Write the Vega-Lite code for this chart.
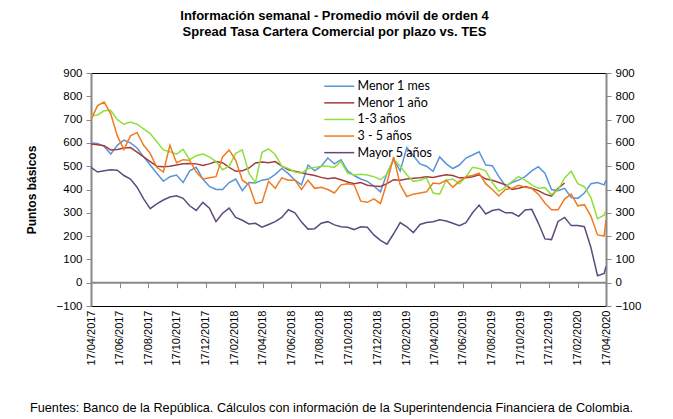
{
 "$schema": "https://vega.github.io/schema/vega-lite/v6.json",
 "width": 515,
 "height": 233,
 "autosize": {"type": "none"},
 "padding": {"left": 91, "top": 73, "right": 67, "bottom": 113},
 "background": "white",
 "config": {"view": {"stroke": "black", "strokeWidth": 1}, "font": "Liberation Sans"},
 "title": {"text": ["Información semanal - Promedio móvil de orden 4", "Spread Tasa Cartera Comercial por plazo vs. TES"], "fontSize": 13, "fontWeight": "bold", "font": "Liberation Sans", "color": "black", "anchor": "middle", "dx": -14, "offset": 28, "lineHeight": 16},
 "datasets": {
  "series": [
{"d":"2017-04-17","s":"Menor 1 mes","v":600},{"d":"2017-05-01","s":"Menor 1 mes","v":598},{"d":"2017-05-15","s":"Menor 1 mes","v":585},{"d":"2017-05-29","s":"Menor 1 mes","v":552},{"d":"2017-06-12","s":"Menor 1 mes","v":590},{"d":"2017-06-26","s":"Menor 1 mes","v":612},{"d":"2017-07-10","s":"Menor 1 mes","v":600},{"d":"2017-07-24","s":"Menor 1 mes","v":578},{"d":"2017-08-07","s":"Menor 1 mes","v":540},{"d":"2017-08-21","s":"Menor 1 mes","v":505},
{"d":"2017-09-04","s":"Menor 1 mes","v":470},{"d":"2017-09-18","s":"Menor 1 mes","v":435},{"d":"2017-10-02","s":"Menor 1 mes","v":455},{"d":"2017-10-16","s":"Menor 1 mes","v":462},{"d":"2017-10-30","s":"Menor 1 mes","v":430},{"d":"2017-11-13","s":"Menor 1 mes","v":480},{"d":"2017-11-27","s":"Menor 1 mes","v":495},{"d":"2017-12-11","s":"Menor 1 mes","v":445},{"d":"2017-12-25","s":"Menor 1 mes","v":413},{"d":"2018-01-08","s":"Menor 1 mes","v":400},
{"d":"2018-01-22","s":"Menor 1 mes","v":400},{"d":"2018-02-05","s":"Menor 1 mes","v":430},{"d":"2018-02-19","s":"Menor 1 mes","v":445},{"d":"2018-03-05","s":"Menor 1 mes","v":395},{"d":"2018-03-19","s":"Menor 1 mes","v":430},{"d":"2018-04-02","s":"Menor 1 mes","v":428},{"d":"2018-04-16","s":"Menor 1 mes","v":440},{"d":"2018-04-30","s":"Menor 1 mes","v":445},{"d":"2018-05-14","s":"Menor 1 mes","v":465},{"d":"2018-05-28","s":"Menor 1 mes","v":490},
{"d":"2018-06-11","s":"Menor 1 mes","v":468},{"d":"2018-06-25","s":"Menor 1 mes","v":440},{"d":"2018-07-09","s":"Menor 1 mes","v":420},{"d":"2018-07-23","s":"Menor 1 mes","v":505},{"d":"2018-08-06","s":"Menor 1 mes","v":480},{"d":"2018-08-20","s":"Menor 1 mes","v":500},{"d":"2018-09-03","s":"Menor 1 mes","v":535},{"d":"2018-09-17","s":"Menor 1 mes","v":510},{"d":"2018-10-01","s":"Menor 1 mes","v":528},{"d":"2018-10-15","s":"Menor 1 mes","v":480},
{"d":"2018-10-29","s":"Menor 1 mes","v":460},{"d":"2018-11-12","s":"Menor 1 mes","v":445},{"d":"2018-11-26","s":"Menor 1 mes","v":435},{"d":"2018-12-10","s":"Menor 1 mes","v":415},{"d":"2018-12-24","s":"Menor 1 mes","v":390},{"d":"2019-01-07","s":"Menor 1 mes","v":470},{"d":"2019-01-21","s":"Menor 1 mes","v":528},{"d":"2019-02-04","s":"Menor 1 mes","v":480},{"d":"2019-02-18","s":"Menor 1 mes","v":580},{"d":"2019-03-04","s":"Menor 1 mes","v":545},
{"d":"2019-03-18","s":"Menor 1 mes","v":510},{"d":"2019-04-01","s":"Menor 1 mes","v":500},{"d":"2019-04-15","s":"Menor 1 mes","v":478},{"d":"2019-04-29","s":"Menor 1 mes","v":540},{"d":"2019-05-13","s":"Menor 1 mes","v":510},{"d":"2019-05-27","s":"Menor 1 mes","v":490},{"d":"2019-06-10","s":"Menor 1 mes","v":505},{"d":"2019-06-24","s":"Menor 1 mes","v":535},{"d":"2019-07-08","s":"Menor 1 mes","v":548},{"d":"2019-07-22","s":"Menor 1 mes","v":562},
{"d":"2019-08-05","s":"Menor 1 mes","v":505},{"d":"2019-08-19","s":"Menor 1 mes","v":502},{"d":"2019-09-02","s":"Menor 1 mes","v":455},{"d":"2019-09-16","s":"Menor 1 mes","v":415},{"d":"2019-09-30","s":"Menor 1 mes","v":430},{"d":"2019-10-14","s":"Menor 1 mes","v":440},{"d":"2019-10-28","s":"Menor 1 mes","v":455},{"d":"2019-11-11","s":"Menor 1 mes","v":480},{"d":"2019-11-25","s":"Menor 1 mes","v":498},{"d":"2019-12-09","s":"Menor 1 mes","v":470},
{"d":"2019-12-23","s":"Menor 1 mes","v":400},{"d":"2020-01-06","s":"Menor 1 mes","v":395},{"d":"2020-01-20","s":"Menor 1 mes","v":405},{"d":"2020-02-03","s":"Menor 1 mes","v":365},{"d":"2020-02-17","s":"Menor 1 mes","v":362},{"d":"2020-03-02","s":"Menor 1 mes","v":385},{"d":"2020-03-16","s":"Menor 1 mes","v":425},{"d":"2020-03-30","s":"Menor 1 mes","v":430},{"d":"2020-04-13","s":"Menor 1 mes","v":420},{"d":"2020-04-17","s":"Menor 1 mes","v":440},

{"d":"2017-04-17","s":"Menor 1 año","v":595},{"d":"2017-05-01","s":"Menor 1 año","v":592},{"d":"2017-05-15","s":"Menor 1 año","v":588},{"d":"2017-05-29","s":"Menor 1 año","v":570},{"d":"2017-06-12","s":"Menor 1 año","v":572},{"d":"2017-06-26","s":"Menor 1 año","v":578},{"d":"2017-07-10","s":"Menor 1 año","v":580},{"d":"2017-07-24","s":"Menor 1 año","v":560},{"d":"2017-08-07","s":"Menor 1 año","v":540},{"d":"2017-08-21","s":"Menor 1 año","v":520},
{"d":"2017-09-04","s":"Menor 1 año","v":500},{"d":"2017-09-18","s":"Menor 1 año","v":498},{"d":"2017-10-02","s":"Menor 1 año","v":500},{"d":"2017-10-16","s":"Menor 1 año","v":505},{"d":"2017-10-30","s":"Menor 1 año","v":510},{"d":"2017-11-13","s":"Menor 1 año","v":512},{"d":"2017-11-27","s":"Menor 1 año","v":510},{"d":"2017-12-11","s":"Menor 1 año","v":503},{"d":"2017-12-25","s":"Menor 1 año","v":510},{"d":"2018-01-08","s":"Menor 1 año","v":520},
{"d":"2018-01-22","s":"Menor 1 año","v":515},{"d":"2018-02-05","s":"Menor 1 año","v":495},{"d":"2018-02-19","s":"Menor 1 año","v":478},{"d":"2018-03-05","s":"Menor 1 año","v":480},{"d":"2018-03-19","s":"Menor 1 año","v":492},{"d":"2018-04-02","s":"Menor 1 año","v":514},{"d":"2018-04-16","s":"Menor 1 año","v":518},{"d":"2018-04-30","s":"Menor 1 año","v":515},{"d":"2018-05-14","s":"Menor 1 año","v":520},{"d":"2018-05-28","s":"Menor 1 año","v":500},
{"d":"2018-06-11","s":"Menor 1 año","v":485},{"d":"2018-06-25","s":"Menor 1 año","v":478},{"d":"2018-07-09","s":"Menor 1 año","v":472},{"d":"2018-07-23","s":"Menor 1 año","v":465},{"d":"2018-08-06","s":"Menor 1 año","v":460},{"d":"2018-08-20","s":"Menor 1 año","v":452},{"d":"2018-09-03","s":"Menor 1 año","v":446},{"d":"2018-09-17","s":"Menor 1 año","v":450},{"d":"2018-10-01","s":"Menor 1 año","v":442},{"d":"2018-10-15","s":"Menor 1 año","v":432},
{"d":"2018-10-29","s":"Menor 1 año","v":425},{"d":"2018-11-12","s":"Menor 1 año","v":430},{"d":"2018-11-26","s":"Menor 1 año","v":418},{"d":"2018-12-10","s":"Menor 1 año","v":415},{"d":"2018-12-24","s":"Menor 1 año","v":413},{"d":"2019-01-07","s":"Menor 1 año","v":425},{"d":"2019-01-21","s":"Menor 1 año","v":442},{"d":"2019-02-04","s":"Menor 1 año","v":440},{"d":"2019-02-18","s":"Menor 1 año","v":445},{"d":"2019-03-04","s":"Menor 1 año","v":448},
{"d":"2019-03-18","s":"Menor 1 año","v":450},{"d":"2019-04-01","s":"Menor 1 año","v":455},{"d":"2019-04-15","s":"Menor 1 año","v":452},{"d":"2019-04-29","s":"Menor 1 año","v":458},{"d":"2019-05-13","s":"Menor 1 año","v":463},{"d":"2019-05-27","s":"Menor 1 año","v":460},{"d":"2019-06-10","s":"Menor 1 año","v":450},{"d":"2019-06-24","s":"Menor 1 año","v":450},{"d":"2019-07-08","s":"Menor 1 año","v":455},{"d":"2019-07-22","s":"Menor 1 año","v":463},
{"d":"2019-08-05","s":"Menor 1 año","v":445},{"d":"2019-08-19","s":"Menor 1 año","v":440},{"d":"2019-09-02","s":"Menor 1 año","v":430},{"d":"2019-09-16","s":"Menor 1 año","v":420},{"d":"2019-09-30","s":"Menor 1 año","v":400},{"d":"2019-10-14","s":"Menor 1 año","v":405},{"d":"2019-10-28","s":"Menor 1 año","v":413},{"d":"2019-11-11","s":"Menor 1 año","v":405},{"d":"2019-11-25","s":"Menor 1 año","v":395},{"d":"2019-12-09","s":"Menor 1 año","v":380},
{"d":"2019-12-23","s":"Menor 1 año","v":372},{"d":"2020-01-06","s":"Menor 1 año","v":405},{"d":"2020-01-20","s":"Menor 1 año","v":428},

{"d":"2017-04-17","s":"1-3 años","v":715},{"d":"2017-05-01","s":"1-3 años","v":720},{"d":"2017-05-15","s":"1-3 años","v":738},{"d":"2017-05-29","s":"1-3 años","v":740},{"d":"2017-06-12","s":"1-3 años","v":700},{"d":"2017-06-26","s":"1-3 años","v":680},{"d":"2017-07-10","s":"1-3 años","v":690},{"d":"2017-07-24","s":"1-3 años","v":680},{"d":"2017-08-07","s":"1-3 años","v":660},{"d":"2017-08-21","s":"1-3 años","v":640},
{"d":"2017-09-04","s":"1-3 años","v":605},{"d":"2017-09-18","s":"1-3 años","v":570},{"d":"2017-10-02","s":"1-3 años","v":562},{"d":"2017-10-16","s":"1-3 años","v":552},{"d":"2017-10-30","s":"1-3 años","v":572},{"d":"2017-11-13","s":"1-3 años","v":528},{"d":"2017-11-27","s":"1-3 años","v":545},{"d":"2017-12-11","s":"1-3 años","v":552},{"d":"2017-12-25","s":"1-3 años","v":540},{"d":"2018-01-08","s":"1-3 años","v":520},
{"d":"2018-01-22","s":"1-3 años","v":485},{"d":"2018-02-05","s":"1-3 años","v":500},{"d":"2018-02-19","s":"1-3 años","v":555},{"d":"2018-03-05","s":"1-3 años","v":570},{"d":"2018-03-19","s":"1-3 años","v":470},{"d":"2018-04-02","s":"1-3 años","v":430},{"d":"2018-04-16","s":"1-3 años","v":560},{"d":"2018-04-30","s":"1-3 años","v":574},{"d":"2018-05-14","s":"1-3 años","v":550},{"d":"2018-05-28","s":"1-3 años","v":500},
{"d":"2018-06-11","s":"1-3 años","v":490},{"d":"2018-06-25","s":"1-3 años","v":475},{"d":"2018-07-09","s":"1-3 años","v":470},{"d":"2018-07-23","s":"1-3 años","v":490},{"d":"2018-08-06","s":"1-3 años","v":495},{"d":"2018-08-20","s":"1-3 años","v":500},{"d":"2018-09-03","s":"1-3 años","v":500},{"d":"2018-09-17","s":"1-3 años","v":495},{"d":"2018-10-01","s":"1-3 años","v":520},{"d":"2018-10-15","s":"1-3 años","v":470},
{"d":"2018-10-29","s":"1-3 años","v":462},{"d":"2018-11-12","s":"1-3 años","v":465},{"d":"2018-11-26","s":"1-3 años","v":462},{"d":"2018-12-10","s":"1-3 años","v":455},{"d":"2018-12-24","s":"1-3 años","v":442},{"d":"2019-01-07","s":"1-3 años","v":465},{"d":"2019-01-21","s":"1-3 años","v":530},{"d":"2019-02-04","s":"1-3 años","v":500},{"d":"2019-02-18","s":"1-3 años","v":463},{"d":"2019-03-04","s":"1-3 años","v":435},
{"d":"2019-03-18","s":"1-3 años","v":440},{"d":"2019-04-01","s":"1-3 años","v":450},{"d":"2019-04-15","s":"1-3 años","v":385},{"d":"2019-04-29","s":"1-3 años","v":380},{"d":"2019-05-13","s":"1-3 años","v":440},{"d":"2019-05-27","s":"1-3 años","v":445},{"d":"2019-06-10","s":"1-3 años","v":425},{"d":"2019-06-24","s":"1-3 años","v":455},{"d":"2019-07-08","s":"1-3 años","v":495},{"d":"2019-07-22","s":"1-3 años","v":490},
{"d":"2019-08-05","s":"1-3 años","v":480},{"d":"2019-08-19","s":"1-3 años","v":430},{"d":"2019-09-02","s":"1-3 años","v":392},{"d":"2019-09-16","s":"1-3 años","v":410},{"d":"2019-09-30","s":"1-3 años","v":435},{"d":"2019-10-14","s":"1-3 años","v":455},{"d":"2019-10-28","s":"1-3 años","v":440},{"d":"2019-11-11","s":"1-3 años","v":420},{"d":"2019-11-25","s":"1-3 años","v":405},{"d":"2019-12-09","s":"1-3 años","v":408},
{"d":"2019-12-23","s":"1-3 años","v":378},{"d":"2020-01-06","s":"1-3 años","v":400},{"d":"2020-01-20","s":"1-3 años","v":450},{"d":"2020-02-03","s":"1-3 años","v":478},{"d":"2020-02-17","s":"1-3 años","v":425},{"d":"2020-03-02","s":"1-3 años","v":412},{"d":"2020-03-16","s":"1-3 años","v":365},{"d":"2020-03-30","s":"1-3 años","v":275},{"d":"2020-04-13","s":"1-3 años","v":290},{"d":"2020-04-17","s":"1-3 años","v":310},

{"d":"2017-04-17","s":"3 - 5 años","v":700},{"d":"2017-05-01","s":"3 - 5 años","v":760},{"d":"2017-05-15","s":"3 - 5 años","v":775},{"d":"2017-05-29","s":"3 - 5 años","v":725},{"d":"2017-06-12","s":"3 - 5 años","v":630},{"d":"2017-06-26","s":"3 - 5 años","v":572},{"d":"2017-07-10","s":"3 - 5 años","v":630},{"d":"2017-07-24","s":"3 - 5 años","v":645},{"d":"2017-08-07","s":"3 - 5 años","v":590},{"d":"2017-08-21","s":"3 - 5 años","v":555},
{"d":"2017-09-04","s":"3 - 5 años","v":495},{"d":"2017-09-18","s":"3 - 5 años","v":475},{"d":"2017-10-02","s":"3 - 5 años","v":590},{"d":"2017-10-16","s":"3 - 5 años","v":515},{"d":"2017-10-30","s":"3 - 5 años","v":528},{"d":"2017-11-13","s":"3 - 5 años","v":525},{"d":"2017-11-27","s":"3 - 5 años","v":475},{"d":"2017-12-11","s":"3 - 5 años","v":445},{"d":"2017-12-25","s":"3 - 5 años","v":450},{"d":"2018-01-08","s":"3 - 5 años","v":455},
{"d":"2018-01-22","s":"3 - 5 años","v":540},{"d":"2018-02-05","s":"3 - 5 años","v":570},{"d":"2018-02-19","s":"3 - 5 años","v":525},{"d":"2018-03-05","s":"3 - 5 años","v":440},{"d":"2018-03-19","s":"3 - 5 años","v":420},{"d":"2018-04-02","s":"3 - 5 años","v":340},{"d":"2018-04-16","s":"3 - 5 años","v":345},{"d":"2018-04-30","s":"3 - 5 años","v":435},{"d":"2018-05-14","s":"3 - 5 años","v":405},{"d":"2018-05-28","s":"3 - 5 años","v":450},
{"d":"2018-06-11","s":"3 - 5 años","v":440},{"d":"2018-06-25","s":"3 - 5 años","v":440},{"d":"2018-07-09","s":"3 - 5 años","v":400},{"d":"2018-07-23","s":"3 - 5 años","v":440},{"d":"2018-08-06","s":"3 - 5 años","v":405},{"d":"2018-08-20","s":"3 - 5 años","v":410},{"d":"2018-09-03","s":"3 - 5 años","v":400},{"d":"2018-09-17","s":"3 - 5 años","v":385},{"d":"2018-10-01","s":"3 - 5 años","v":420},{"d":"2018-10-15","s":"3 - 5 años","v":425},
{"d":"2018-10-29","s":"3 - 5 años","v":420},{"d":"2018-11-12","s":"3 - 5 años","v":350},{"d":"2018-11-26","s":"3 - 5 años","v":345},{"d":"2018-12-10","s":"3 - 5 años","v":360},{"d":"2018-12-24","s":"3 - 5 años","v":340},{"d":"2019-01-07","s":"3 - 5 años","v":430},{"d":"2019-01-21","s":"3 - 5 años","v":540},{"d":"2019-02-04","s":"3 - 5 años","v":420},{"d":"2019-02-18","s":"3 - 5 años","v":370},{"d":"2019-03-04","s":"3 - 5 años","v":380},
{"d":"2019-03-18","s":"3 - 5 años","v":385},{"d":"2019-04-01","s":"3 - 5 años","v":390},{"d":"2019-04-15","s":"3 - 5 años","v":428},{"d":"2019-04-29","s":"3 - 5 años","v":425},{"d":"2019-05-13","s":"3 - 5 años","v":440},{"d":"2019-05-27","s":"3 - 5 años","v":410},{"d":"2019-06-10","s":"3 - 5 años","v":435},{"d":"2019-06-24","s":"3 - 5 años","v":455},{"d":"2019-07-08","s":"3 - 5 años","v":460},{"d":"2019-07-22","s":"3 - 5 años","v":470},
{"d":"2019-08-05","s":"3 - 5 años","v":425},{"d":"2019-08-19","s":"3 - 5 años","v":400},{"d":"2019-09-02","s":"3 - 5 años","v":372},{"d":"2019-09-16","s":"3 - 5 años","v":400},{"d":"2019-09-30","s":"3 - 5 años","v":405},{"d":"2019-10-14","s":"3 - 5 años","v":418},{"d":"2019-10-28","s":"3 - 5 años","v":410},{"d":"2019-11-11","s":"3 - 5 años","v":405},{"d":"2019-11-25","s":"3 - 5 años","v":380},{"d":"2019-12-09","s":"3 - 5 años","v":342},
{"d":"2019-12-23","s":"3 - 5 años","v":313},{"d":"2020-01-06","s":"3 - 5 años","v":313},{"d":"2020-01-20","s":"3 - 5 años","v":360},{"d":"2020-02-03","s":"3 - 5 años","v":380},{"d":"2020-02-17","s":"3 - 5 años","v":330},{"d":"2020-03-02","s":"3 - 5 años","v":335},{"d":"2020-03-16","s":"3 - 5 años","v":285},{"d":"2020-03-30","s":"3 - 5 años","v":205},{"d":"2020-04-13","s":"3 - 5 años","v":200},{"d":"2020-04-17","s":"3 - 5 años","v":270},

{"d":"2017-04-17","s":"Mayor 5 años","v":495},{"d":"2017-05-01","s":"Mayor 5 años","v":475},{"d":"2017-05-15","s":"Mayor 5 años","v":480},{"d":"2017-05-29","s":"Mayor 5 años","v":485},{"d":"2017-06-12","s":"Mayor 5 años","v":483},{"d":"2017-06-26","s":"Mayor 5 años","v":460},{"d":"2017-07-10","s":"Mayor 5 años","v":445},{"d":"2017-07-24","s":"Mayor 5 años","v":410},{"d":"2017-08-07","s":"Mayor 5 años","v":360},{"d":"2017-08-21","s":"Mayor 5 años","v":318},
{"d":"2017-09-04","s":"Mayor 5 años","v":338},{"d":"2017-09-18","s":"Mayor 5 años","v":355},{"d":"2017-10-02","s":"Mayor 5 años","v":368},{"d":"2017-10-16","s":"Mayor 5 años","v":373},{"d":"2017-10-30","s":"Mayor 5 años","v":362},{"d":"2017-11-13","s":"Mayor 5 años","v":330},{"d":"2017-11-27","s":"Mayor 5 años","v":310},{"d":"2017-12-11","s":"Mayor 5 años","v":345},{"d":"2017-12-25","s":"Mayor 5 años","v":320},{"d":"2018-01-08","s":"Mayor 5 años","v":262},
{"d":"2018-01-22","s":"Mayor 5 años","v":298},{"d":"2018-02-05","s":"Mayor 5 años","v":320},{"d":"2018-02-19","s":"Mayor 5 años","v":280},{"d":"2018-03-05","s":"Mayor 5 años","v":268},{"d":"2018-03-19","s":"Mayor 5 años","v":252},{"d":"2018-04-02","s":"Mayor 5 años","v":255},{"d":"2018-04-16","s":"Mayor 5 años","v":238},{"d":"2018-04-30","s":"Mayor 5 años","v":250},{"d":"2018-05-14","s":"Mayor 5 años","v":262},{"d":"2018-05-28","s":"Mayor 5 años","v":280},
{"d":"2018-06-11","s":"Mayor 5 años","v":313},{"d":"2018-06-25","s":"Mayor 5 años","v":300},{"d":"2018-07-09","s":"Mayor 5 años","v":260},{"d":"2018-07-23","s":"Mayor 5 años","v":230},{"d":"2018-08-06","s":"Mayor 5 años","v":232},{"d":"2018-08-20","s":"Mayor 5 años","v":255},{"d":"2018-09-03","s":"Mayor 5 años","v":262},{"d":"2018-09-17","s":"Mayor 5 años","v":248},{"d":"2018-10-01","s":"Mayor 5 años","v":240},{"d":"2018-10-15","s":"Mayor 5 años","v":238},
{"d":"2018-10-29","s":"Mayor 5 años","v":228},{"d":"2018-11-12","s":"Mayor 5 años","v":240},{"d":"2018-11-26","s":"Mayor 5 años","v":238},{"d":"2018-12-10","s":"Mayor 5 años","v":205},{"d":"2018-12-24","s":"Mayor 5 años","v":182},{"d":"2019-01-07","s":"Mayor 5 años","v":165},{"d":"2019-01-21","s":"Mayor 5 años","v":210},{"d":"2019-02-04","s":"Mayor 5 años","v":258},{"d":"2019-02-18","s":"Mayor 5 años","v":240},{"d":"2019-03-04","s":"Mayor 5 años","v":215},
{"d":"2019-03-18","s":"Mayor 5 años","v":250},{"d":"2019-04-01","s":"Mayor 5 años","v":258},{"d":"2019-04-15","s":"Mayor 5 años","v":262},{"d":"2019-04-29","s":"Mayor 5 años","v":270},{"d":"2019-05-13","s":"Mayor 5 años","v":265},{"d":"2019-05-27","s":"Mayor 5 años","v":255},{"d":"2019-06-10","s":"Mayor 5 años","v":245},{"d":"2019-06-24","s":"Mayor 5 años","v":258},{"d":"2019-07-08","s":"Mayor 5 años","v":300},{"d":"2019-07-22","s":"Mayor 5 años","v":333},
{"d":"2019-08-05","s":"Mayor 5 años","v":295},{"d":"2019-08-19","s":"Mayor 5 años","v":310},{"d":"2019-09-02","s":"Mayor 5 años","v":315},{"d":"2019-09-16","s":"Mayor 5 años","v":300},{"d":"2019-09-30","s":"Mayor 5 años","v":300},{"d":"2019-10-14","s":"Mayor 5 años","v":285},{"d":"2019-10-28","s":"Mayor 5 años","v":312},{"d":"2019-11-11","s":"Mayor 5 años","v":315},{"d":"2019-11-25","s":"Mayor 5 años","v":256},{"d":"2019-12-09","s":"Mayor 5 años","v":188},
{"d":"2019-12-23","s":"Mayor 5 años","v":185},{"d":"2020-01-06","s":"Mayor 5 años","v":263},{"d":"2020-01-20","s":"Mayor 5 años","v":280},{"d":"2020-02-03","s":"Mayor 5 años","v":245},{"d":"2020-02-17","s":"Mayor 5 años","v":245},{"d":"2020-03-02","s":"Mayor 5 años","v":240},{"d":"2020-03-16","s":"Mayor 5 años","v":150},{"d":"2020-03-30","s":"Mayor 5 años","v":30},{"d":"2020-04-13","s":"Mayor 5 años","v":40},{"d":"2020-04-17","s":"Mayor 5 años","v":70}
  ],
  "zero": [{"y": 0}]
 },
 "layer": [
  {
   "data": {"name": "series"},
   "mark": {"type": "line", "strokeWidth": 1.5, "clip": true},
   "encoding": {
    "x": {"field": "d", "type": "temporal",
     "scale": {"type": "utc", "domain": [{"year": 2017, "month": 4, "date": 17, "utc": true}, {"year": 2020, "month": 4, "date": 17, "utc": true}]},
     "axis": {"orient": "bottom", "format": "%d/%m/%Y", "labelAngle": -90, "labelFontSize": 11, "labelColor": "black", "labelPadding": 4, "labelOverlap": false, "labelFlush": false, "ticks": false, "domain": false, "grid": false,
      "values": [{"year":2017,"month":4,"date":17,"utc":true},{"year":2017,"month":6,"date":17,"utc":true},{"year":2017,"month":8,"date":17,"utc":true},{"year":2017,"month":10,"date":17,"utc":true},{"year":2017,"month":12,"date":17,"utc":true},{"year":2018,"month":2,"date":17,"utc":true},{"year":2018,"month":4,"date":17,"utc":true},{"year":2018,"month":6,"date":17,"utc":true},{"year":2018,"month":8,"date":17,"utc":true},{"year":2018,"month":10,"date":17,"utc":true},{"year":2018,"month":12,"date":17,"utc":true},{"year":2019,"month":2,"date":17,"utc":true},{"year":2019,"month":4,"date":17,"utc":true},{"year":2019,"month":6,"date":17,"utc":true},{"year":2019,"month":8,"date":17,"utc":true},{"year":2019,"month":10,"date":17,"utc":true},{"year":2019,"month":12,"date":17,"utc":true},{"year":2020,"month":2,"date":17,"utc":true},{"year":2020,"month":4,"date":17,"utc":true}],
      "title": "Fuentes: Banco de la República. Cálculos con información de la Superintendencia Financiera de Colombia.",
      "titleFontSize": 12.7, "titleFontWeight": "normal", "titleColor": "black", "titleX": 240, "titleY": 101, "titleAlign": "center", "titleBaseline": "middle"}},
    "y": {"field": "v", "type": "quantitative", "scale": {"domain": [-100, 900], "nice": false},
     "axis": {"orient": "left", "values": [-100, 0, 100, 200, 300, 400, 500, 600, 700, 800, 900], "labelFontSize": 11.5, "labelColor": "black", "labelPadding": 4, "domainColor": "#888888", "domainWidth": 2, "tickColor": "#888888", "tickSize": 5, "grid": false,
      "title": "Puntos básicos", "titleFontSize": 12, "titleFontWeight": "bold", "titleColor": "black", "titlePadding": 18}},
    "color": {"field": "s", "type": "nominal",
     "scale": {"domain": ["Menor 1 mes", "Menor 1 año", "1-3 años", "3 - 5 años", "Mayor 5 años"], "range": ["#5894DC", "#A33C3C", "#8FE03C", "#F27A1E", "#5E4A7E"]},
     "legend": {"orient": "none", "legendX": 242, "legendY": 7, "title": null, "symbolType": "M-3.75,0H3.75", "symbolSize": 64, "symbolStrokeWidth": 1.5, "labelFontSize": 12.5, "labelFont": "Lato", "labelColor": "black", "rowPadding": 3.6, "labelOffset": 12}}
   }
  },
  {
   "data": {"name": "zero"},
   "mark": {"type": "rule", "color": "#888888", "strokeWidth": 2},
   "encoding": {
    "x": {"datum": {"year": 2017, "month": 4, "date": 17, "utc": true}, "type": "temporal",
     "axis": {"orient": "bottom", "offset": -23.3, "labels": false, "ticks": true, "tickSize": 5, "tickColor": "#888888", "domain": false, "grid": false, "title": null,
      "values": [{"year":2017,"month":4,"date":17,"utc":true},{"year":2017,"month":6,"date":17,"utc":true},{"year":2017,"month":8,"date":17,"utc":true},{"year":2017,"month":10,"date":17,"utc":true},{"year":2017,"month":12,"date":17,"utc":true},{"year":2018,"month":2,"date":17,"utc":true},{"year":2018,"month":4,"date":17,"utc":true},{"year":2018,"month":6,"date":17,"utc":true},{"year":2018,"month":8,"date":17,"utc":true},{"year":2018,"month":10,"date":17,"utc":true},{"year":2018,"month":12,"date":17,"utc":true},{"year":2019,"month":2,"date":17,"utc":true},{"year":2019,"month":4,"date":17,"utc":true},{"year":2019,"month":6,"date":17,"utc":true},{"year":2019,"month":8,"date":17,"utc":true},{"year":2019,"month":10,"date":17,"utc":true},{"year":2019,"month":12,"date":17,"utc":true},{"year":2020,"month":2,"date":17,"utc":true},{"year":2020,"month":4,"date":17,"utc":true}]}},
    "x2": {"datum": {"year": 2020, "month": 4, "date": 17, "utc": true}},
    "y": {"field": "y", "type": "quantitative",
     "axis": {"orient": "right", "values": [-100, 0, 100, 200, 300, 400, 500, 600, 700, 800, 900], "labelFontSize": 11.5, "labelColor": "black", "labelPadding": 4, "domainColor": "#888888", "domainWidth": 2, "tickColor": "#888888", "tickSize": 5, "grid": false, "title": null}}
   }
  }
 ],
 "resolve": {"axis": {"x": "independent", "y": "independent"}}
}
